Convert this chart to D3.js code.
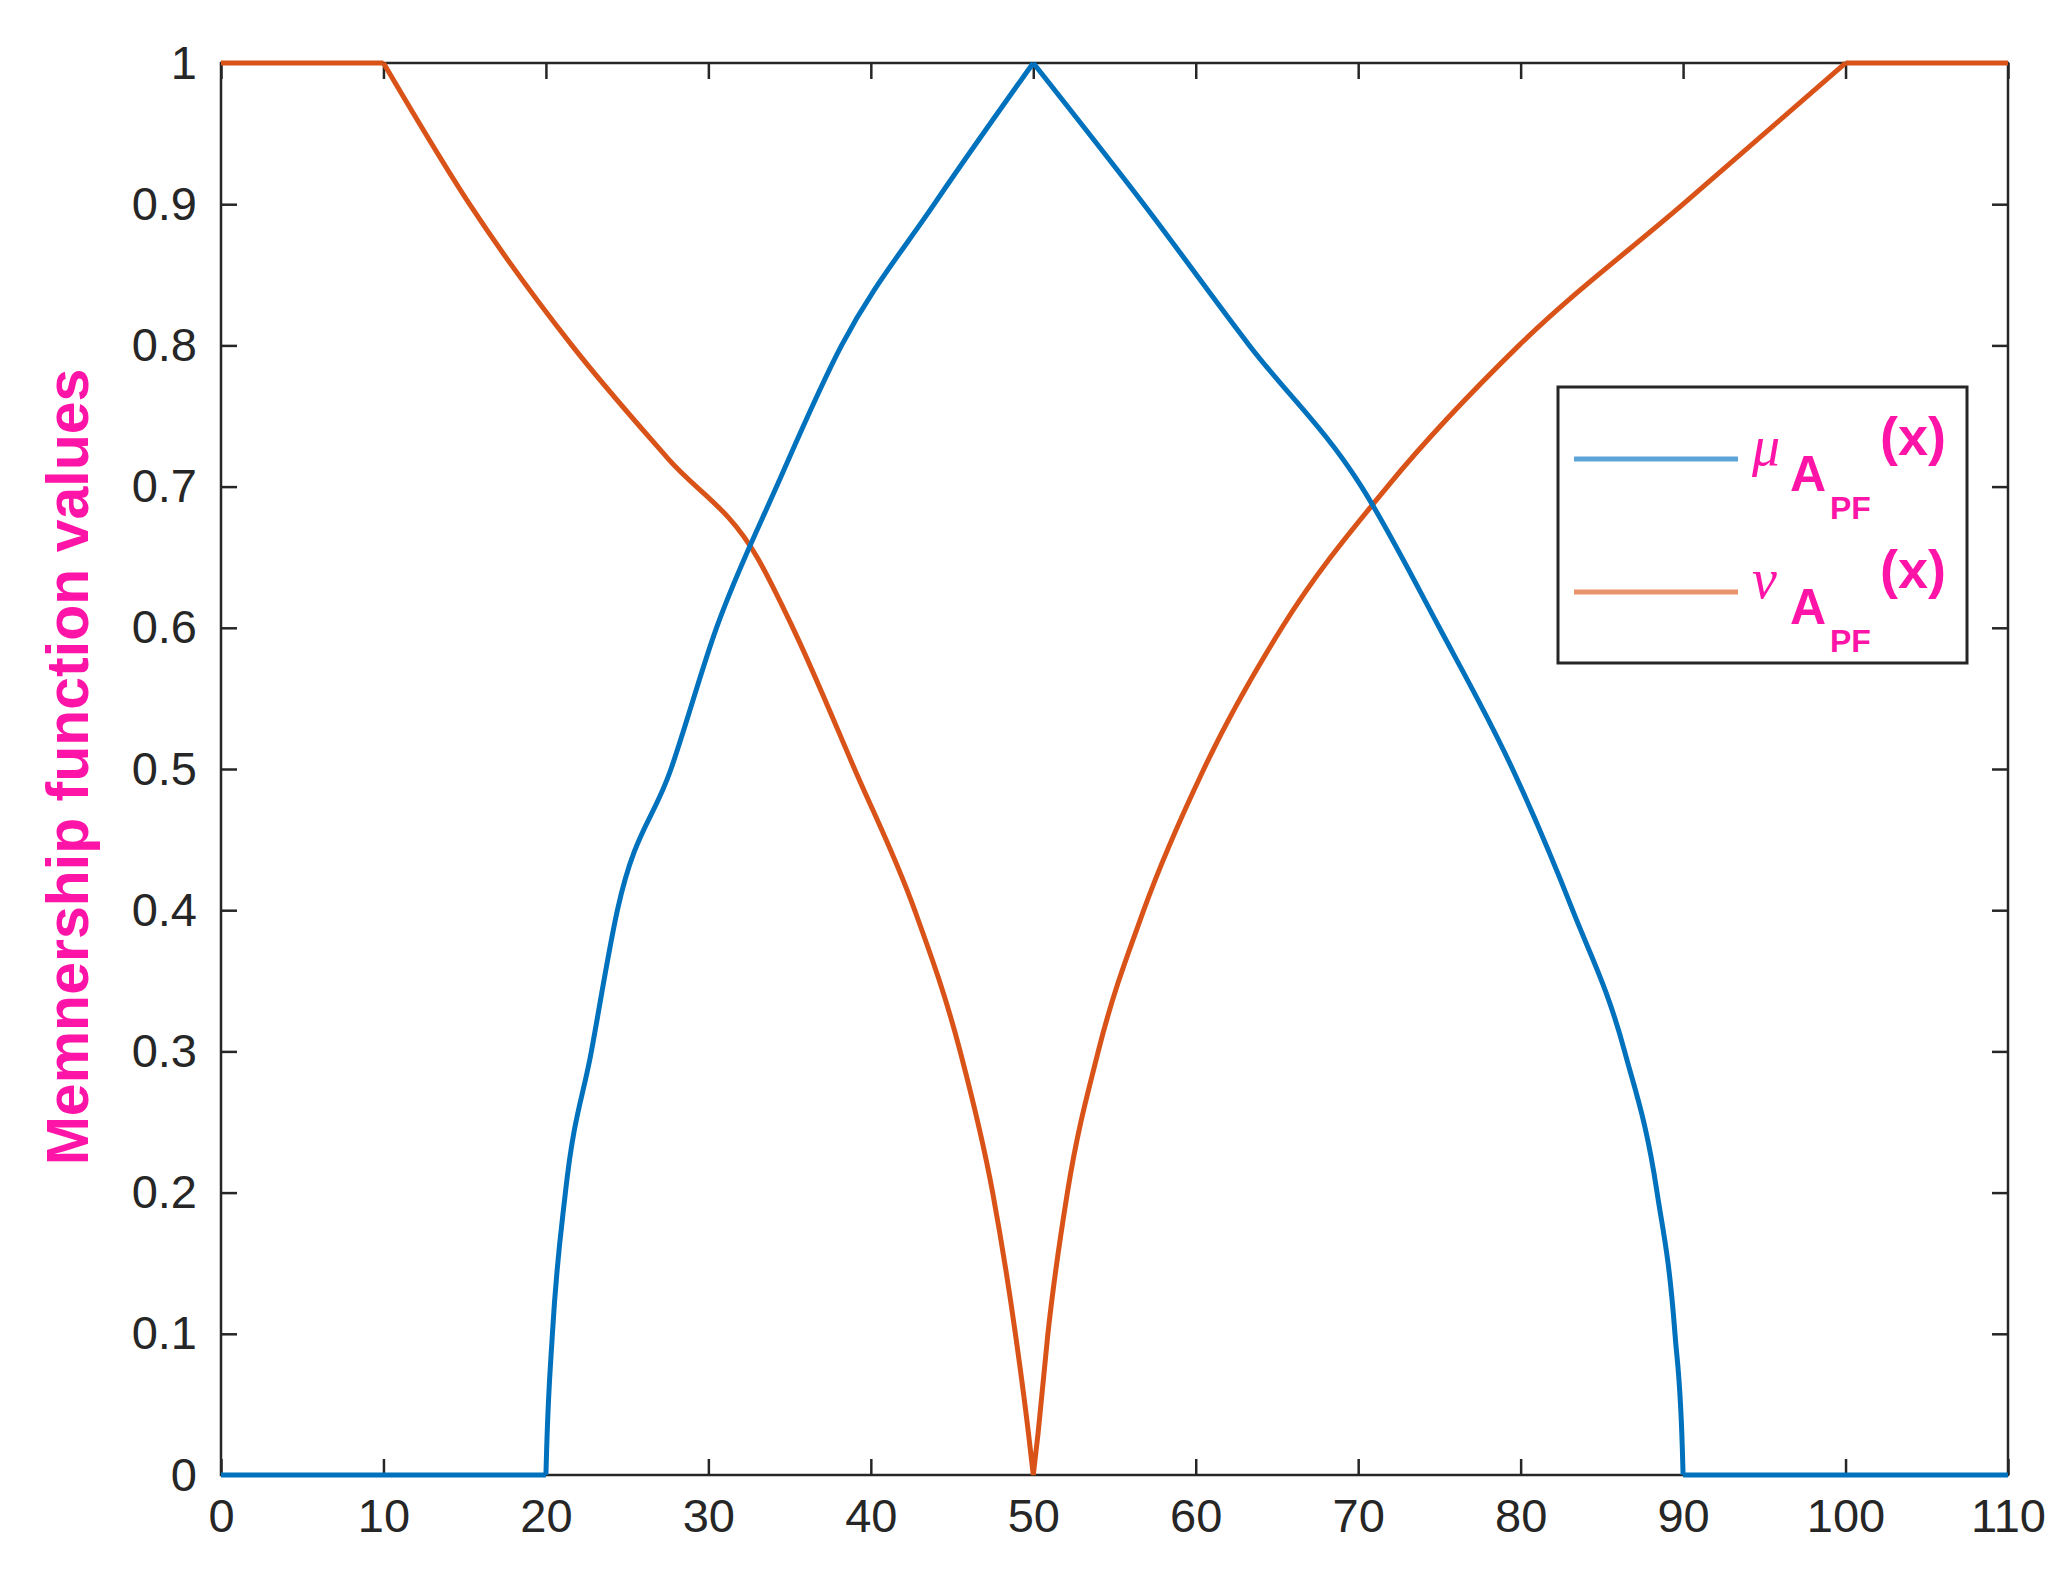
<!DOCTYPE html>
<html><head><meta charset="utf-8">
<script src="https://cdn.jsdelivr.net/npm/d3@7"></script>
<style>body{margin:0;background:#fff}</style>
</head><body>
<svg id="plot" width="2062" height="1589"></svg>
<script>
// values
const muX = [0, 20, 20.05, 20.4, 21.2, 22.8, 24.4, 27.7, 30.5, 34.2, 38.2, 43.9, 50, 56.8, 63.3, 70.2, 75, 79.5, 83.2, 86.4, 88.4, 89.5, 89.95, 90, 110];
const muY = [0, 0, 0.02, 0.1, 0.2, 0.3, 0.4, 0.5, 0.6, 0.7, 0.8, 0.9, 1, 0.9, 0.8, 0.7, 0.6, 0.5, 0.4, 0.3, 0.2, 0.1, 0.02, 0, 0];
const muBreaks = [20, 50, 90];
const nuX = [0, 10, 15.3, 21.6, 27.5, 33, 35.2, 39, 42.7, 45.5, 47.5, 48.9, 49.7, 50, 50.3, 50.9, 52.1, 54, 56.8, 60.5, 65.3, 71.8, 79.9, 90, 100, 110];
const nuY = [1, 1, 0.9, 0.8, 0.72, 0.65, 0.6, 0.5, 0.4, 0.3, 0.2, 0.1, 0.03, 0, 0.03, 0.1, 0.2, 0.3, 0.4, 0.5, 0.6, 0.7, 0.8, 0.9, 1, 1];
const nuBreaks = [10, 50, 100];
const xTicks = d3.range(0, 111, 10);
const yTicks = d3.range(0, 1.01, 0.1);

const svg = d3.select("#plot");
const margin = {left: 221, right: 54, top: 63, bottom: 114};
const W = 2062 - margin.left - margin.right, H = 1589 - margin.top - margin.bottom;
const g = svg.append("g").attr("transform", `translate(${margin.left},${margin.top})`);

const x = d3.scaleLinear().domain([0, 110]).range([0, W]);
const y = d3.scaleLinear().domain([0, 1]).range([H, 0]);

const fmt = d => (Math.round(d * 10) / 10).toString();
const style = a => a.call(s => s.select(".domain").remove())
  .call(s => s.selectAll("line").attr("stroke", "#262626").attr("stroke-width", 2.5))
  .call(s => s.selectAll("text").attr("fill", "#262626").attr("font-family", "Liberation Sans, Arial").attr("font-size", 47));

g.append("g").attr("transform", `translate(0,${H})`)
  .call(d3.axisBottom(x).tickValues(xTicks).tickSize(-16).tickPadding(24)).call(style);
g.append("g").call(d3.axisTop(x).tickValues(xTicks).tickSize(-16).tickFormat("")).call(style);
g.append("g").call(d3.axisLeft(y).tickValues(yTicks).tickSize(-16).tickPadding(24).tickFormat(fmt)).call(style);
g.append("g").attr("transform", `translate(${W},0)`)
  .call(d3.axisRight(y).tickValues(yTicks).tickSize(-16).tickFormat("")).call(style);
g.append("rect").attr("width", W).attr("height", H).attr("fill", "none")
  .attr("stroke", "#262626").attr("stroke-width", 2.5);

// split a series at its kinks so each smooth piece gets its own curve
function pieces(xs, ys, breaks) {
  const pts = d3.zip(xs, ys), out = [];
  let cur = [];
  pts.forEach(p => {
    cur.push(p);
    if (breaks.includes(p[0])) { out.push(cur); cur = [p]; }
  });
  if (cur.length > 1) out.push(cur);
  return out;
}
const line = d3.line().x(d => x(d[0])).y(d => y(d[1])).curve(d3.curveMonotoneX);
const drawSeries = (xs, ys, br, c) => g.append("path")
  .attr("d", pieces(xs, ys, br).map(line).join(""))
  .attr("fill", "none").attr("stroke", c).attr("stroke-width", 5).attr("stroke-linejoin", "round");
drawSeries(nuX, nuY, nuBreaks, "#D95319");
drawSeries(muX, muY, muBreaks, "#0072BD");

// y label
svg.append("text").attr("transform", "translate(88,767) rotate(-90)")
  .attr("text-anchor", "middle").attr("font-family", "Liberation Sans, Arial")
  .attr("font-weight", "bold").attr("font-size", 59).attr("fill", "#FF14A8")
  .text("Memnership function values");

// legend
const lg = svg.append("g");
lg.append("rect").attr("x", 1558).attr("y", 387).attr("width", 409).attr("height", 276)
  .attr("fill", "#fff").attr("stroke", "#262626").attr("stroke-width", 3);
const items = [{sym: "μ", c: "#5DA5D8", yy: 459}, {sym: "ν", c: "#E8946C", yy: 592}];
items.forEach(it => {
  lg.append("line").attr("x1", 1574).attr("x2", 1738).attr("y1", it.yy).attr("y2", it.yy)
    .attr("stroke", it.c).attr("stroke-width", 5);
  const t = lg.append("text").attr("fill", "#FF14A8").attr("font-family", "Liberation Sans, Arial");
  t.append("tspan").attr("x", 1752).attr("y", it.yy + 6).attr("font-family", "Liberation Serif")
    .attr("font-style", "italic").attr("font-size", 56).text(it.sym);
  t.append("tspan").attr("x", 1790).attr("y", it.yy + 32).attr("font-weight", "bold").attr("font-size", 50).text("A");
  t.append("tspan").attr("x", 1830).attr("y", it.yy + 60).attr("font-weight", "bold").attr("font-size", 32).text("PF");
  t.append("tspan").attr("x", 1880).attr("y", it.yy - 4).attr("font-weight", "bold").attr("font-size", 54).text("(x)");
});
</script>
</body></html>
